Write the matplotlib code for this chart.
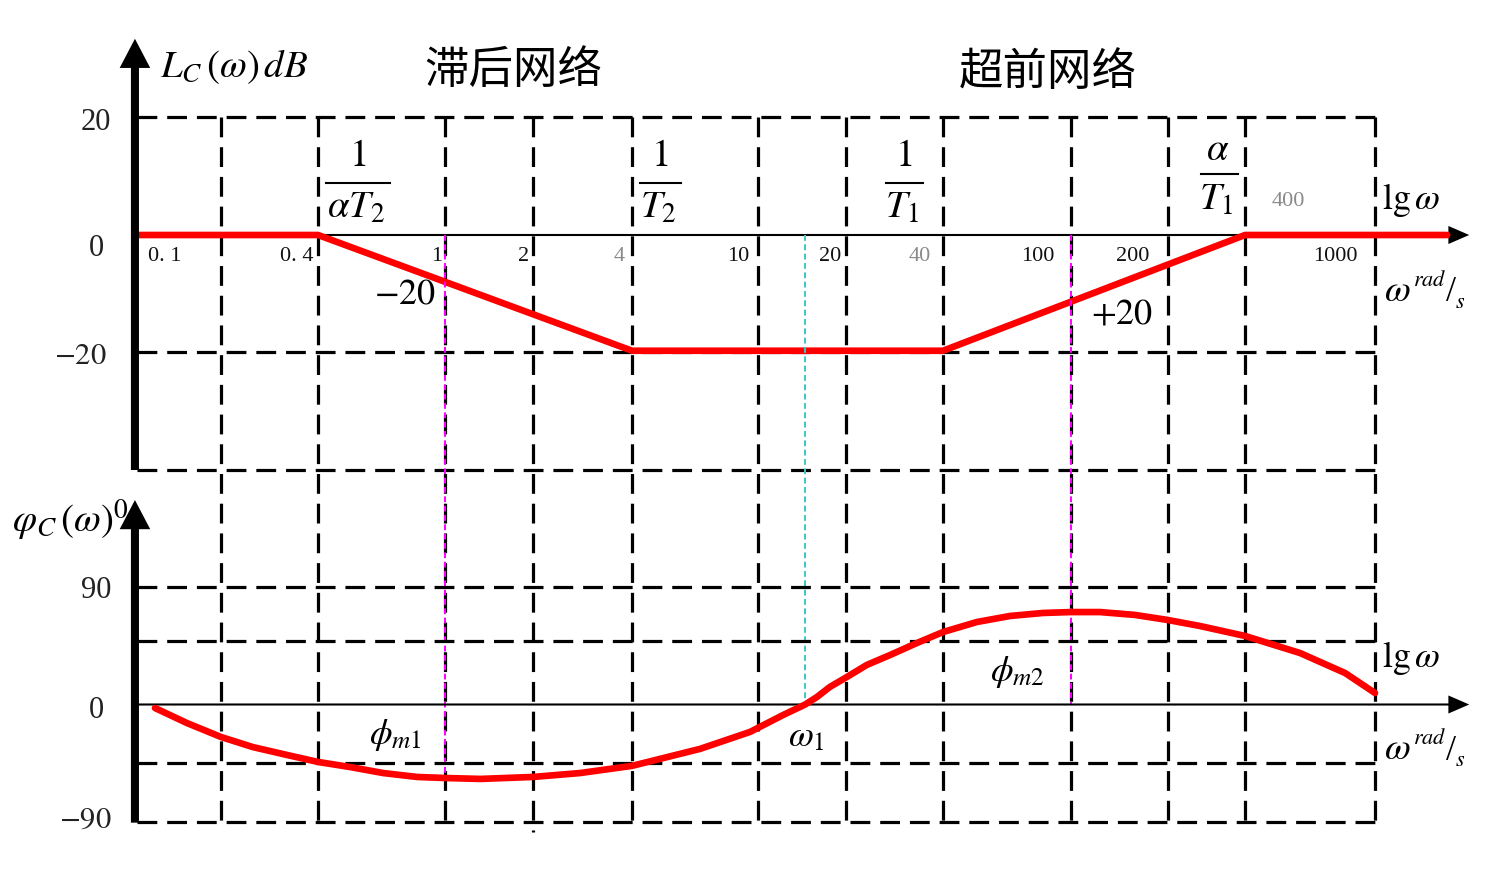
import numpy as np
import matplotlib
matplotlib.use("Agg")
import matplotlib.pyplot as plt
from matplotlib.lines import Line2D

plt.rcParams['mathtext.fontset'] = 'stix'
plt.rcParams['font.family'] = ['Liberation Serif', 'DejaVu Sans']

# ---------------- data ----------------
grid_w = [0.2, 0.4, 1, 2, 4, 10, 20, 40, 100, 200, 400, 1000]
tick_labels = ['0. 1', '0. 4', '1', '2', '4', '10', '20', '40', '100', '200', '400', '1000']

mag_w = [0.1, 0.4, 4, 40, 400, 1700]
mag_db = [0, 0, -19.7, -19.7, 0, 0]

phase_w = [0.116, 0.151, 0.2, 0.251, 0.321, 0.4, 0.504, 0.64, 0.817, 1, 1.32,
           2, 2.78, 4, 6.56, 9.44, 12.2, 14.5, 15.9, 17.6, 20.1, 23.2, 27.4,
           33.2, 40, 51, 64.6, 81.8, 100, 123, 158, 200, 267, 400, 590, 679,
           810, 1000]
phase_deg = [-2.7, -14.2, -24.9, -32.6, -38.7, -44, -47.9, -52.5, -55.5, -56.3,
             -57, -55.5, -52.5, -47, -34, -21, -8, 0, 5.7, 13.4, 21, 30.3, 37.9,
             47.1, 55.5, 63.2, 67.8, 70.1, 70.8, 70.8, 68.6, 64.7, 60.1, 52.5,
             39.4, 32.6, 24.1, 8.8]

db_grid = [20, -20, -40]
deg_grid = [90, 49, -45, -90]
w_lag = 1        # phi_m1
w_lead = 100     # phi_m2
w_1 = 14.5       # omega_1
phi_m1 = -56

# ---------------- layout ----------------
W, H = 1500, 873
axis_anchor_w = [0.01, 0.1] + grid_w + [10000]
axis_anchor_px = [-176, 137, 221, 318, 445, 533, 632, 758, 846, 943, 1071,
                  1168, 1245, 1375, 1688]
log_a = np.log10(axis_anchor_w)


def fwd(w):
    w = np.asarray(w, dtype=float)
    return np.interp(np.log10(np.clip(w, 1e-9, None)), log_a, axis_anchor_px)


def inv(p):
    return 10 ** np.interp(np.asarray(p, dtype=float), axis_anchor_px, log_a)


Y0_DB, PX_DB = 235.0, 5.875
Y0_DEG, PX_DEG = 704.5, 1.3056


def deg_to_db(d):
    return (Y0_DB - (Y0_DEG - PX_DEG * d)) / PX_DB


fig = plt.figure(figsize=(W / 100, H / 100), dpi=100)
ax1 = fig.add_axes([0, 0, 1, 1])
ax2 = fig.add_axes([0, 0, 1, 1])
for ax in (ax1, ax2):
    ax.set_xscale('function', functions=(fwd, inv))
    ax.set_xlim(inv(0), inv(W))
    ax.axis('off')
ax2.patch.set_alpha(0)
ax1.set_ylim((Y0_DB - H) / PX_DB, Y0_DB / PX_DB)
ax2.set_ylim((Y0_DEG - H) / PX_DEG, Y0_DEG / PX_DEG)

grid_style = dict(color='k', lw=2.3, linestyle=(0, (6.2, 3.1)), zorder=1)
for w in grid_w:
    ax1.plot([w, w], [20, deg_to_db(-98 if w == 2 else -90)], **grid_style)
for d in db_grid:
    ax1.plot([0.1, 1000], [d, d], **grid_style)
for d in deg_grid:
    ax2.plot([0.1, 1000], [d, d], **grid_style)

YAXIS_W = 0.0985
AX_END = 2000


def v_arrow(ax, x, y0, y1):
    ax.annotate('', xy=(x, y1), xytext=(x, y0),
                arrowprops=dict(arrowstyle='simple,head_length=2.1,head_width=2.2,tail_width=0.58',
                                mutation_scale=10, fc='k', ec='none', lw=0,
                                shrinkA=0, shrinkB=0), zorder=6)


def h_arrow(ax, x0, x1, y):
    ax.annotate('', xy=(x1, y), xytext=(x0, y),
                arrowprops=dict(arrowstyle='simple,head_length=1.5,head_width=1.3,tail_width=0.15',
                                mutation_scale=10, fc='k', ec='none', lw=0,
                                shrinkA=0, shrinkB=0), zorder=2)


v_arrow(ax1, YAXIS_W, -40, 33.4)
v_arrow(ax2, YAXIS_W, -90.5, 156.6)
h_arrow(ax1, 0.1, AX_END, 0)
h_arrow(ax2, 0.1, AX_END, 0)

red = dict(color='#ff0000', lw=4.8, solid_capstyle='round', solid_joinstyle='round', zorder=4)
ax1.plot(mag_w, mag_db, **red)
ax2.plot(phase_w, phase_deg, **red)

thin = dict(lw=1.4, linestyle=(0, (3.0, 1.8)), zorder=5)
ax1.plot([w_lag, w_lag], [0, deg_to_db(phi_m1)], color='#ff00ff', **thin)
ax1.plot([w_lead, w_lead], [0, deg_to_db(0)], color='#ff00ff', **thin)
ax1.plot([w_1, w_1], [0, deg_to_db(0)], color='#3cc8c8', **thin)


# ---------------- texts ----------------
def put(x, y, s, **kw):
    kw.setdefault('ha', 'center')
    kw.setdefault('va', 'center')
    fig.text(x / W, 1 - y / H, s, **kw)


def bar(x0, x1, y):
    fig.add_artist(Line2D([x0 / W, x1 / W], [1 - y / H, 1 - y / H],
                          transform=fig.transFigure, color='k', lw=1.5))


put(160, 67, r'$L_C\,(\omega)\,dB$', size=28, ha='left')
put(12, 520, r'$\varphi_C\,(\omega)^0$', size=28, ha='left')
cjk = dict(family=['Noto Sans CJK SC', 'DejaVu Sans'], size=32, fontweight='light')
put(513, 70, '滞后网络', **cjk)
put(1048, 72, '超前网络', **cjk)

ynum = dict(size=22, color='#222222')
put(96, 123, '20', **ynum)
put(96, 248, '0', **ynum)
put(80, 357, r'$-20$', **ynum)
put(96, 591, '90', **ynum)
put(96, 710, '0', **ynum)
put(85, 820, r'$-90$', **ynum)

tick_x = [165, 297, 437, 524, 619, 738, 830, 920, 1038, 1133, 1288, 1335]
tick_y = [256, 256, 256, 256, 256, 256, 256, 256, 256, 256, 201, 256]
for lab, tx, ty in zip(tick_labels, tick_x, tick_y):
    col = '#8a8a8a' if lab in ('4', '40', '400') else '#111111'
    put(tx, ty, lab, size=16, color=col)

# fractions (numerator, bar, denominator)
fr = dict(size=28)
put(358, 157, r'$1$', **fr)
bar(326, 390, 183)
put(356, 208, r'$\alpha T_2$', **fr)
put(660, 157, r'$1$', **fr)
bar(640, 681, 183)
put(658, 208, r'$T_2$', **fr)
put(904, 157, r'$1$', **fr)
bar(886, 923, 183)
put(902, 208, r'$T_1$', **fr)
put(1218, 150, r'$\alpha$', **fr)
bar(1201, 1238, 174)
put(1216, 200, r'$T_1$', **fr)

put(405, 295, r'$-20$', size=26)
put(1122, 315, r'$+20$', size=26)

for yy in (200, 658):
    put(1382, yy, r'$\mathrm{lg}\,\omega$', size=26, ha='left')
for dy in (0, 458):
    put(1384, 292 + dy, r'$\omega$', size=27, ha='left')
    put(1430, 281 + dy, r'$rad$', size=16)
    put(1451, 293 + dy, '/', size=26)
    put(1460, 303 + dy, r'$s$', size=16)

put(395, 735, r'$\phi_{m1}$', size=26)
put(806, 738, r'$\omega_1$', size=26)
put(1017, 672, r'$\phi_{m2}$', size=26)

fig.savefig('out.png', dpi=100)
